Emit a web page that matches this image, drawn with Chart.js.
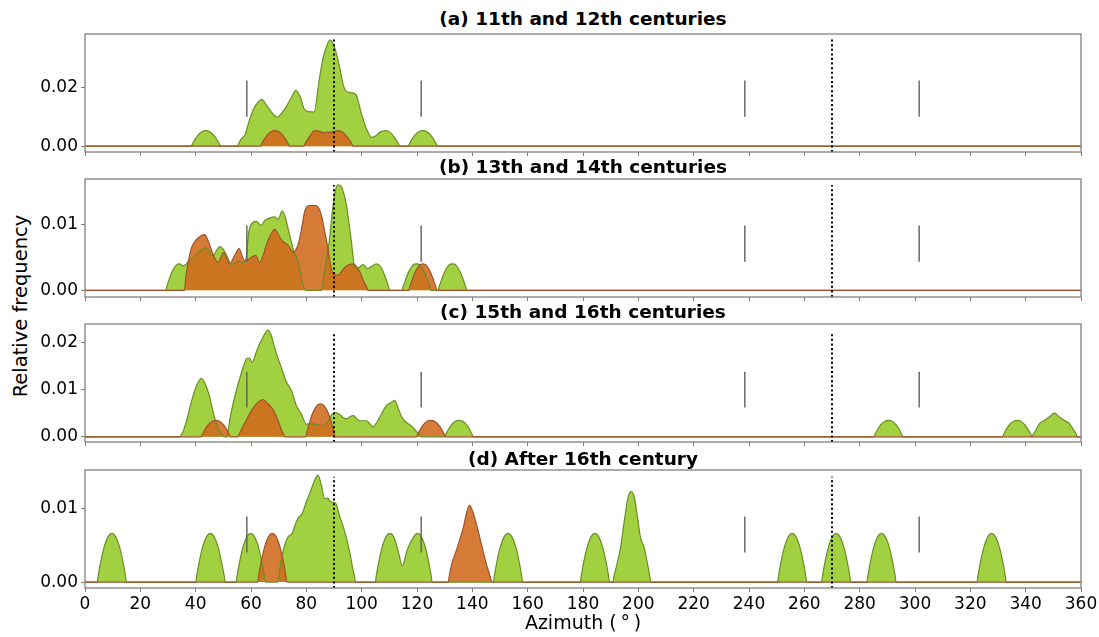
<!DOCTYPE html>
<html>
<head>
<meta charset="utf-8">
<script src="https://cdn.jsdelivr.net/npm/chart.js@4.4.0/dist/chart.umd.min.js"></script>
<style>
body { margin:0; background:#fff; width:1099px; height:637px; position:relative; overflow:hidden; font-family:"DejaVu Sans", sans-serif; }
canvas { position:absolute; left:0; }
.ptitle { position:absolute; left:85px; width:996px; text-align:center; font-weight:bold; font-size:18.5px; line-height:22px; color:#000; }
#ylabel { position:absolute; left:20px; top:306px; transform:translate(-50%,-50%) rotate(-90deg); font-size:19.5px; white-space:nowrap; color:#000; }
</style>
</head>
<body>
<div id="ylabel">Relative frequency</div>
<script>
// azimuth (deg), relative frequency
const greenA = [[0,0],[38.4,0],[38.8,0.0007],[39.5,0.0019],[40.8,0.0037],[42.4,0.005],[43.7,0.0053],[45,0.005],[46.6,0.0037],[47.9,0.0019],[48.6,0.0007],[49,0],
  [55.2,0],[55.6,0.001],[56.5,0.0025],[57.8,0.0038],[59.3,0.0085],[60.8,0.0125],[62.5,0.015],[63.9,0.016],[65.3,0.0145],[67.1,0.012],[68.5,0.0105],[69.5,0.0099],[71,0.0112],[72.5,0.0131],[74.5,0.0165],[76.2,0.0191],[77.8,0.0168],[79.2,0.0128],[81,0.0118],[82.8,0.0117],[84.6,0.0223],[86,0.030],[87,0.0332],[88.5,0.0363],[90,0.0344],[91.8,0.0281],[93.2,0.0215],[94.3,0.0189],[96.1,0.0183],[97.9,0.0177],[99,0.0145],[100,0.0108],[102.1,0.0051],[103.6,0.003],[105,0.0035],[106.5,0.0048],[107.9,0.0052],[108.7,0.0053],[110.2,0.0048],[111.8,0.0031],[113.2,0.001],[113.8,0],
  [116.8,0],[117.2,0.0007],[117.9,0.0019],[119.2,0.0037],[120.8,0.005],[122.1,0.0053],[123.4,0.005],[125,0.0037],[126.3,0.0019],[127,0.0007],[127.4,0],[360,0]];
const orangeA = [[0,0],[63.4,0],[63.8,0.0007],[64.5,0.0019],[65.8,0.0037],[67.3,0.005],[68.6,0.0053],[69.9,0.005],[71.5,0.0037],[72.8,0.0019],[73.5,0.0007],[73.9,0],
  [79.1,0],[79.5,0.0007],[80.2,0.0019],[81.5,0.0037],[82.5,0.005],[83.5,0.0053],[85,0.005],[86.5,0.0046],[87.5,0.0048],[88.5,0.0047],[90,0.005],[91.5,0.0053],[92.8,0.005],[94.3,0.0037],[95.7,0.0019],[96.5,0.0007],[96.9,0],[360,0]];

const greenB = [[0,0],[29.2,0],[29.6,0.0006],[30.3,0.0015],[31.5,0.0029],[33,0.0038],[34.2,0.004],[35.5,0.0037],[36.5,0.0039],[37.8,0.0047],[39,0.0049],[40.5,0.0054],[42,0.0061],[43.9,0.0064],[45,0.0058],[46.3,0.0052],[47.5,0.006],[48.7,0.0066],[50,0.0062],[51.5,0.005],[52.9,0.0039],[54,0.0041],[55.5,0.0044],[57,0.0041],[58.2,0.0048],[59.2,0.0088],[60.3,0.0101],[61.9,0.0104],[63.7,0.0098],[64.9,0.0105],[66.7,0.0109],[68.6,0.0111],[69.8,0.0107],[71.3,0.012],[72.4,0.011],[73.4,0.0093],[75.4,0.006],[77,0.0043],[78,0.0025],[78.8,0.0008],[80,0],
  [85.4,0],[85.8,0.0009],[86.5,0.0025],[87.5,0.0052],[88.4,0.0078],[89.3,0.0115],[90.2,0.0144],[91.4,0.0159],[92.6,0.0157],[93.6,0.0145],[94.5,0.0129],[95.4,0.0102],[96.3,0.0073],[97.5,0.0035],[98.5,0.0033],[100.5,0.0039],[102.2,0.0033],[103.5,0.0036],[105.3,0.004],[106.8,0.0036],[108.5,0.0021],[109.6,0.0007],[110.1,0],
  [114.6,0],[115,0.00055],[115.7,0.0014],[117,0.0028],[118.5,0.0038],[119.8,0.004],[121.1,0.0038],[122.6,0.0028],[123.9,0.0014],[124.6,0.00055],[125,0],
  [127.6,0],[128,0.00055],[128.7,0.0014],[130,0.0028],[131.5,0.0038],[132.8,0.004],[134.1,0.0038],[135.6,0.0028],[136.9,0.0014],[137.6,0.00055],[138,0],[360,0]];
const orangeB = [[0,0],[36,0],[36.3,0.0015],[37,0.0035],[38.4,0.0063],[40,0.0075],[41.4,0.0081],[43.3,0.0084],[44.5,0.0075],[45.7,0.0061],[47,0.0048],[48.1,0.0042],[50.1,0.0057],[51.3,0.0048],[52.3,0.004],[54,0.0052],[55.7,0.0063],[56.8,0.0052],[57.7,0.0044],[59.5,0.0048],[61.7,0.0053],[63.1,0.0042],[64.3,0.0052],[65.5,0.0068],[67,0.0083],[68.6,0.0092],[69.8,0.0085],[71,0.0076],[73.4,0.0068],[75.2,0.0058],[76.3,0.0062],[77.3,0.0073],[78.5,0.0098],[79.4,0.0119],[81,0.0128],[83.6,0.0128],[84.6,0.0123],[85.4,0.0114],[86.6,0.009],[87.8,0.0063],[88.7,0.004],[89.6,0.0025],[91.4,0.0023],[93.9,0.0035],[96.9,0.004],[99.3,0.0028],[100.8,0.0013],[101.8,0.0005],[102.3,0],
  [117,0],[117.4,0.00055],[118.1,0.0014],[119.4,0.0028],[120.9,0.0038],[122.1,0.004],[123.3,0.0038],[124.8,0.0028],[126.1,0.0014],[126.8,0.00055],[127.2,0],[360,0]];

const greenC = [[0,0],[34.2,0],[34.8,0.0004],[35.5,0.0012],[37,0.004],[38.5,0.0075],[40.3,0.0108],[42,0.0124],[43.5,0.0112],[45,0.0085],[46.5,0.0048],[48,0.002],[49.5,0.0005],[50.5,0],
  [51.3,0],[51.7,0.0012],[52.3,0.0035],[53.5,0.007],[54.7,0.0098],[55.9,0.0123],[57.2,0.0148],[58.3,0.0165],[59.3,0.0167],[60.5,0.0158],[61.9,0.018],[63.2,0.0198],[64.3,0.0211],[66.1,0.0226],[67.3,0.0215],[68.2,0.0197],[69.2,0.0176],[70.9,0.0148],[72.8,0.0116],[74.6,0.0098],[75.5,0.0082],[76.4,0.0066],[78.2,0.0048],[80,0.0027],[81.8,0.0028],[83.6,0.0026],[85.5,0.0024],[87.5,0.003],[89,0.0045],[90.2,0.0052],[91.3,0.005],[92.2,0.0047],[93.3,0.0041],[94.5,0.0038],[95.8,0.0043],[97.1,0.0045],[98.2,0.0038],[99.3,0.0034],[101.7,0.0034],[103,0.0027],[104.1,0.0021],[105.2,0.0028],[106.5,0.0041],[108.9,0.0066],[110.5,0.0072],[111.9,0.0077],[113.1,0.0062],[114.3,0.0044],[115.5,0.0034],[117,0.0027],[118.6,0.002],[120.2,0.0008],[121.6,0],
  [130,0],[130.4,0.00047],[131.1,0.0013],[132.4,0.0025],[133.9,0.0033],[135.2,0.0035],[136.5,0.0033],[138,0.0025],[139.3,0.0013],[139.9,0.00047],[140.3,0],
  [285.1,0],[285.5,0.00047],[286.2,0.0013],[287.5,0.0025],[289.1,0.0033],[290.4,0.0035],[291.7,0.0033],[293.3,0.0025],[294.6,0.0013],[295.2,0.00047],[295.6,0],
  [331.6,0],[332,0.00047],[332.7,0.0013],[334,0.0025],[335.6,0.0033],[336.9,0.0035],[338.2,0.0033],[339.8,0.0025],[341.1,0.0013],[341.9,0.00047],[342.3,0],
  [342.7,0.00047],[343.6,0.0013],[345,0.0028],[346.6,0.0034],[348.5,0.0042],[350.4,0.005],[352.2,0.0042],[354.2,0.0034],[355.8,0.0028],[357.5,0.0013],[358.3,0.00047],[358.7,0],[360,0]];
const orangeC = [[0,0],[42,0],[42.4,0.00047],[43.1,0.0013],[44.4,0.0025],[46,0.0033],[47.3,0.0035],[48.6,0.0033],[50.2,0.0025],[51.5,0.0013],[52.1,0.00047],[52.5,0],
  [55.3,0],[55.7,0.0005],[56.5,0.0015],[58.3,0.0035],[60.1,0.0055],[62.5,0.0073],[64.3,0.0079],[66.1,0.007],[68,0.0057],[69.8,0.0034],[71,0.0015],[71.8,0.0005],[72.2,0],
  [79.8,0],[80.2,0.001],[80.9,0.0025],[82.2,0.0049],[83.8,0.0066],[85.1,0.007],[86.4,0.0066],[88,0.0049],[89.3,0.0025],[90,0.001],[90.4,0],
  [119.8,0],[120.2,0.00047],[120.9,0.0013],[122.2,0.0025],[123.7,0.0033],[125,0.0035],[126.3,0.0033],[127.9,0.0025],[129.2,0.0013],[129.9,0.00047],[130.3,0],[360,0]];

const greenD = [[0,0],[4.4,0],[4.8,0.0009],[5.5,0.0024],[6.8,0.0046],[8.4,0.0062],[9.7,0.0066],[11,0.0062],[12.6,0.0046],[13.9,0.0024],[14.6,0.0009],[15,0],
  [40,0],[40.4,0.0009],[41.1,0.0024],[42.4,0.0046],[44,0.0062],[45.3,0.0066],[46.6,0.0062],[48.2,0.0046],[49.5,0.0024],[50.3,0.0009],[50.7,0],
  [54.6,0],[55,0.0009],[55.7,0.0024],[57,0.0046],[58.6,0.0062],[59.9,0.0066],[61.2,0.0062],[62.8,0.0046],[64.1,0.0024],[64.8,0.0009],[65.2,0],
  [69.7,0],[70.1,0.0009],[70.7,0.0025],[72.1,0.0049],[73.5,0.0062],[74.9,0.0066],[76,0.0078],[76.9,0.0086],[78.5,0.0093],[80,0.0109],[81.4,0.0122],[83,0.0138],[84.2,0.0145],[85.4,0.0132],[86.6,0.0113],[87.8,0.0114],[88.7,0.0109],[90.6,0.0107],[92,0.009],[93.9,0.0068],[95.7,0.004],[96.8,0.0018],[97.4,0.0008],[97.8,0],
  [104.9,0],[105.3,0.0009],[106,0.0024],[107.3,0.0046],[108.9,0.0062],[110.2,0.0066],[111.5,0.0062],[113.2,0.0042],[114.7,0.0022],[116.3,0.0042],[118.9,0.0062],[120.2,0.0066],[121.5,0.0062],[123.1,0.0046],[124.4,0.0024],[125.1,0.0009],[125.5,0],
  [147.6,0],[148,0.0009],[148.7,0.0024],[150,0.0046],[151.6,0.0062],[152.9,0.0066],[154.2,0.0062],[155.8,0.0046],[157.1,0.0024],[157.8,0.0009],[158.2,0],
  [179,0],[179.4,0.0009],[180.1,0.0024],[181.4,0.0046],[183,0.0062],[184.3,0.0066],[185.6,0.0062],[187.2,0.0046],[188.5,0.0024],[189.2,0.0009],[189.6,0],
  [190.8,0],[191.2,0.0008],[192,0.002],[193.5,0.0045],[195,0.0085],[196.3,0.0115],[197.5,0.0123],[198.7,0.0112],[199.8,0.0085],[200.8,0.006],[202,0.0048],[203.3,0.0025],[204.1,0.0009],[204.5,0],
  [250.3,0],[250.7,0.0009],[251.4,0.0024],[252.7,0.0046],[254.3,0.0062],[255.6,0.0066],[256.9,0.0062],[258.5,0.0046],[259.8,0.0024],[260.5,0.0009],[260.9,0],
  [266.2,0],[266.6,0.0009],[267.3,0.0024],[268.6,0.0046],[270.2,0.0062],[271.5,0.0066],[272.8,0.0062],[274.4,0.0046],[275.7,0.0024],[276.4,0.0009],[276.8,0],
  [282.6,0],[283,0.0009],[283.7,0.0024],[285,0.0046],[286.6,0.0062],[287.9,0.0066],[289.2,0.0062],[290.8,0.0046],[292.1,0.0024],[292.8,0.0009],[293.2,0],
  [322.4,0],[322.8,0.0009],[323.5,0.0024],[324.8,0.0046],[326.4,0.0062],[327.7,0.0066],[329,0.0062],[330.6,0.0046],[331.9,0.0024],[332.6,0.0009],[333,0],[360,0]];
const orangeD = [[0,0],[62.4,0],[62.8,0.0009],[63.5,0.0024],[64.8,0.0046],[66.4,0.0062],[67.7,0.0066],[69,0.0062],[70.6,0.0046],[71.9,0.0024],[72.6,0.0009],[73,0],
  [131.3,0],[131.7,0.0009],[132.5,0.0024],[134.4,0.0045],[135.8,0.0062],[136.8,0.0075],[138,0.0095],[139,0.0104],[140,0.0097],[141,0.0085],[142.2,0.0068],[143.5,0.0048],[144.6,0.0031],[145.9,0.0014],[146.6,0.0006],[147,0],[360,0]];

const titles = ['(a) 11th and 12th centuries', '(b) 13th and 14th centuries', '(c) 15th and 16th centuries', '(d) After 16th century'];
const yTicks = [[0, 0.02], [0, 0.01], [0, 0.01, 0.02], [0, 0.01]];
const yLimits = [[-0.002, 0.0384], [-0.001, 0.0168], [-0.0011, 0.0239], [-0.0008, 0.0152]];
const cardinal = [90, 270];
const cardinalTop = [0.0365, 0.0159, 0.0223, 0.0143];
const solstice = [58.5, 121.5, 238.5, 301.5];
const solsticeSpan = [[0.0101, 0.0225], [0.0043, 0.0098], [0.0062, 0.0138], [0.004, 0.0089]];

const greens = [greenA, greenB, greenC, greenD];
const oranges = [orangeA, orangeB, orangeC, orangeD];
const plotTops = [34, 179, 324, 470];
const titleY = [19, 167, 312, 459];

const tickFont = { family: 'DejaVu Sans', size: 17 };

const framePlugin = {
    id: 'frame',
    afterDraw(chart) {
        const { ctx, chartArea: a } = chart;
        ctx.save();
        ctx.strokeStyle = '#808080';
        ctx.lineWidth = 1.3;
        ctx.strokeRect(a.left, a.top, a.right - a.left, a.bottom - a.top);
        ctx.restore();
    }
};

function curve(points, fill, line, order) {
    return {
        data: points.map(([x, y]) => ({ x, y })),
        backgroundColor: fill,
        borderColor: line,
        borderWidth: 1.2,
        fill: 'origin',
        pointRadius: 0,
        cubicInterpolationMode: 'monotone',
        order: order
    };
}

function segment(x, y0, y1, color, width, dash) {
    return {
        data: [{ x: x, y: y0 }, { x: x, y: y1 }],
        borderColor: color,
        borderWidth: width,
        borderDash: dash,
        pointRadius: 0,
        fill: false,
        order: 0
    };
}

titles.forEach((title, i) => {
    const last = i === titles.length - 1;
    const axisH = last ? 49 : 8;

    const t = document.createElement('div');
    t.className = 'ptitle';
    t.style.top = (titleY[i] - 11) + 'px';
    t.innerText = title;
    document.body.appendChild(t);

    const canvas = document.createElement('canvas');
    canvas.width = 1099;
    canvas.height = 2 + 118 + axisH;
    canvas.style.top = (plotTops[i] - 2) + 'px';
    document.body.appendChild(canvas);

    const [yMin, yMax] = yLimits[i];
    const datasets = [
        curve(greens[i], 'rgba(154,205,50,0.93)', 'rgb(107,142,35)', 2),
        curve(oranges[i], 'rgba(210,105,30,0.88)', 'rgb(160,82,45)', 1)
    ];
    solstice.forEach(x => datasets.push(segment(x, solsticeSpan[i][0], solsticeSpan[i][1], 'rgb(95,95,95)', 1.4, [])));
    cardinal.forEach(x => datasets.push(segment(x, yMin, cardinalTop[i], '#000', 2, [2, 2.6])));

    new Chart(canvas, {
        type: 'line',
        data: { datasets: datasets },
        options: {
            responsive: false,
            animation: false,
            layout: { padding: { top: 2, right: 18, left: 0, bottom: 0 } },
            plugins: {
                legend: { display: false },
                tooltip: { enabled: false },
                filler: { drawTime: 'beforeDatasetsDraw' }
            },
            scales: {
                x: {
                    type: 'linear',
                    min: 0,
                    max: 360,
                    ticks: { stepSize: 20, display: last, font: tickFont, color: '#000', padding: 2, maxRotation: 0, autoSkip: false },
                    grid: { drawOnChartArea: false, drawTicks: true, tickLength: 4, color: '#808080' },
                    border: { display: false },
                    title: { display: last, text: 'Azimuth (\u2009\u00b0\u2009)', font: { family: 'DejaVu Sans', size: 19 }, color: '#000', padding: { top: 0, bottom: 2 } },
                    afterFit(scale) {
                        scale.height = axisH;
                        scale.paddingLeft = 0;
                        scale.paddingRight = 0;
                    }
                },
                y: {
                    min: yMin,
                    max: yMax,
                    afterBuildTicks(scale) { scale.ticks = yTicks[i].map(v => ({ value: v })); },
                    ticks: { callback: v => v.toFixed(2), font: tickFont, color: '#000', padding: 3 },
                    grid: { drawOnChartArea: false, drawTicks: true, tickLength: 4, color: '#808080' },
                    border: { display: false },
                    afterFit(scale) {
                        scale.width = 85;
                        scale.paddingTop = 0;
                        scale.paddingBottom = 0;
                    }
                }
            }
        },
        plugins: [framePlugin]
    });
});
</script>
</body>
</html>
